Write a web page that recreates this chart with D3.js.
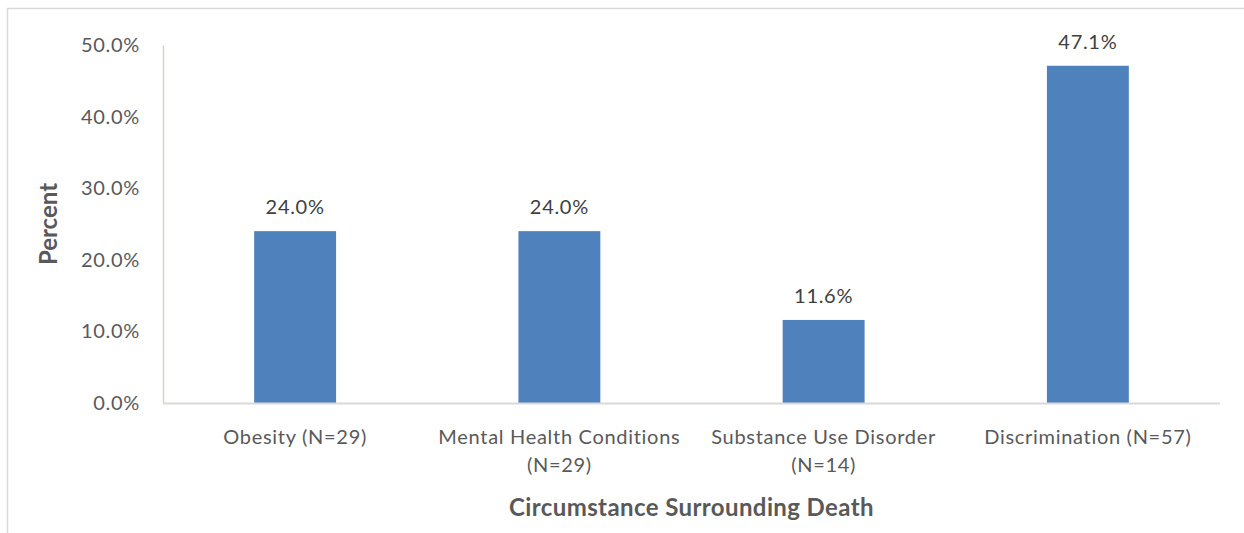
<!DOCTYPE html>
<html><head><meta charset="utf-8">
<script src="https://cdn.jsdelivr.net/npm/d3@7"></script>
<style>body{margin:0;background:#fff}svg{display:block}text{font-family:Lato,"Open Sans",sans-serif}</style>
</head><body><svg id="c" width="1244" height="533"></svg>
<script>
const categories = [["Obesity (N=29)"], ["Mental Health Conditions", "(N=29)"], ["Substance Use Disorder", "(N=14)"], ["Discrimination (N=57)"]];
const values = [24.0, 24.0, 11.6, 47.1];
const yTicks = [0, 10, 20, 30, 40, 50];
const xTitle = "Circumstance Surrounding Death";
const yTitle = "Percent";

const svg = d3.select("#c");
const m = {l:163, r:1220, t:45, b:403};
svg.append("rect").attr("x",7.5).attr("y",8.5).attr("width",1260).attr("height",560).attr("fill","none").attr("stroke","#d9d9d9").attr("stroke-width",1.5);
const idx = categories.map((d,i)=>i);
const x = d3.scaleBand().domain(idx).range([m.l,m.r]).paddingInner(0.69).paddingOuter(0.345);
const y = d3.scaleLinear().domain([0,50]).range([m.b,m.t]);

const ya = svg.append("g").attr("transform",`translate(${m.l},0)`).call(d3.axisLeft(y).tickValues(yTicks).tickSize(0).tickPadding(23).tickFormat(d=>d.toFixed(1)+"%"));
ya.select(".domain").attr("stroke","#d9d4c0").attr("stroke-width",1.5);
ya.selectAll("text").attr("font-size",20).attr("letter-spacing",0.7).attr("fill","#595959").attr("font-family","Lato");

svg.selectAll("rect.bar").data(values).join("rect").attr("class","bar")
 .attr("x",(d,i)=>x(i)).attr("width",x.bandwidth()).attr("y",d=>y(d)).attr("height",d=>y(0)-y(d)).attr("fill","#4f81bd");

svg.append("line").attr("x1",m.l).attr("x2",m.r).attr("y1",y(0)+0.5).attr("y2",y(0)+0.5).attr("stroke","#d9d9d9").attr("stroke-width",2);

svg.selectAll("text.val").data(values).join("text").attr("class","val")
 .attr("x",(d,i)=>x(i)+x.bandwidth()/2).attr("y",d=>y(d)-17).attr("text-anchor","middle")
 .attr("font-size",20).attr("letter-spacing",0.7).attr("fill","#404040").text(d=>d.toFixed(1)+"%");

const cl = svg.selectAll("text.cat").data(categories).join("text").attr("class","cat")
 .attr("x",(d,i)=>x(i)+x.bandwidth()/2).attr("y",444).attr("text-anchor","middle").attr("font-size",20).attr("letter-spacing",0.7).attr("fill","#595959");
cl.selectAll("tspan").data(d=>d).join("tspan").attr("x",function(){return d3.select(this.parentNode).attr("x");}).attr("dy",(d,j)=>j?28:0).text(d=>d);

svg.append("text").attr("x",(m.l+m.r)/2).attr("y",516).attr("text-anchor","middle").attr("font-size",24).attr("letter-spacing",0.4).attr("font-weight","bold").attr("fill","#595959").text(xTitle);
svg.append("text").attr("transform",`translate(57,${(m.t+m.b)/2}) rotate(-90)`).attr("text-anchor","middle").attr("font-size",24).attr("font-weight","bold").attr("fill","#595959").text(yTitle);
</script></body></html>
